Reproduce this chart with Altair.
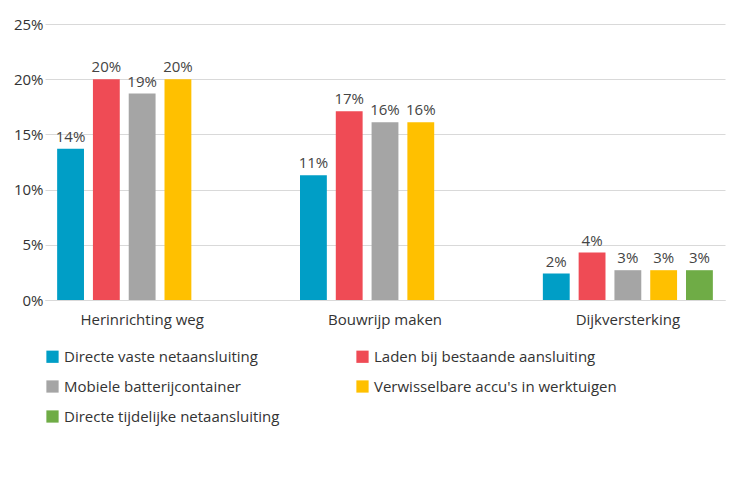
import altair as alt
import pandas as pd

groups = ["Herinrichting weg", "Bouwrijp maken", "Dijkversterking"]
series = ["Directe vaste netaansluiting", "Laden bij bestaande aansluiting",
          "Mobiele batterijcontainer", "Verwisselbare accu's in werktuigen",
          "Directe tijdelijke netaansluiting"]
colors = ["#009ec6", "#ef4b55", "#a5a5a5", "#ffc000", "#6fac46"]
values = {
    "Herinrichting weg": [13.7, 20.0, 18.7, 20.0, None],
    "Bouwrijp maken": [11.3, 17.1, 16.1, 16.1, None],
    "Dijkversterking": [2.4, 4.3, 2.7, 2.7, 2.7],
}
rows = []
for g in groups:
    for s, v in zip(series, values[g]):
        if v is not None:
            rows.append({"group": g, "series": s, "value": v / 100,
                         "label": f"{round(v)}%"})
df = pd.DataFrame(rows)

font = "Open Sans"
base = alt.Chart(df).encode(
    x=alt.X("group:N", sort=groups, title=None)
        .scale(paddingInner=0.3, paddingOuter=0.05)
        .axis(labelAngle=0, labelFontSize=15, labelColor="#333", ticks=False,
              domainColor="#d9d9d9", labelPadding=12),
    xOffset=alt.XOffset("series:N", sort=series).scale(paddingInner=0.25),
)
bars = base.mark_bar().encode(
    y=alt.Y("value:Q", title=None).scale(domain=[0, 0.25])
        .axis(format="%", values=[0, 0.05, 0.1, 0.15, 0.2, 0.25], labelFontSize=15,
              labelColor="#333", domain=False, ticks=False, gridColor="#d9d9d9",
              labelOverlap=False),
    color=alt.Color("series:N", sort=series, title=None)
        .scale(domain=series, range=colors)
        .legend(orient="bottom", columns=2, symbolType="square", symbolSize=150,
                labelFontSize=15, labelLimit=400, columnPadding=75, rowPadding=14,
                labelColor="#333", direction="horizontal", offset=22),
)
text = base.mark_text(dy=-12, fontSize=15, color="#444").encode(
    y="value:Q", text="label:N")

chart = (bars + text).properties(width=680, height=287).configure(
    font=font).configure_view(stroke=None)

chart.save("out.html", embed_options={"renderer": "svg", "actions": False})
